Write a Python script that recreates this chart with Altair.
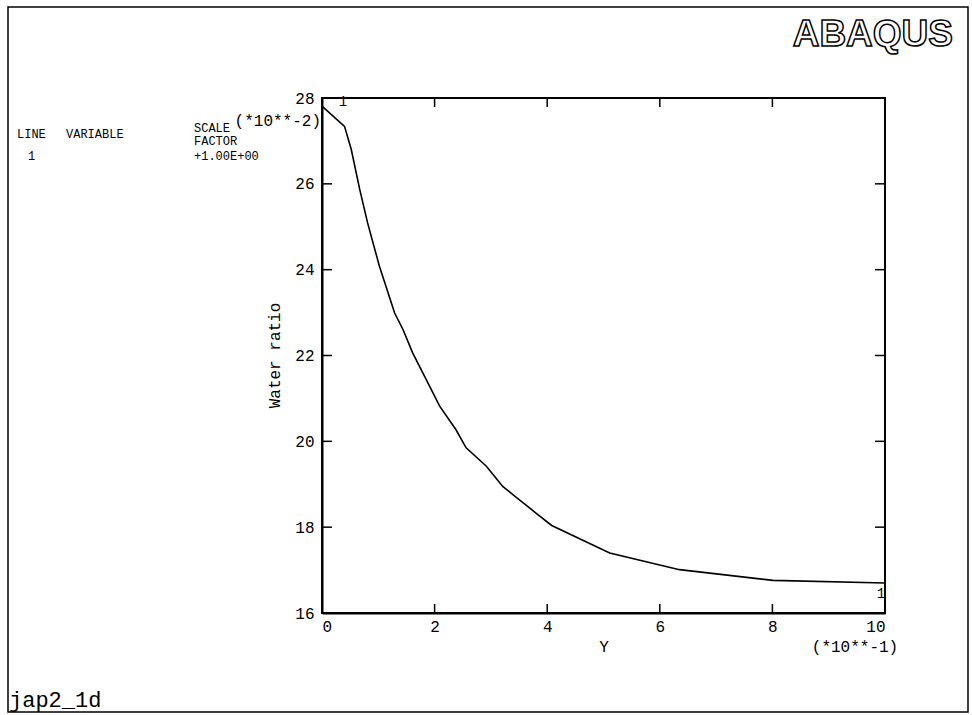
import altair as alt
import pandas as pd

# ---- data ----
y_pos = [0.0, 0.40, 0.52, 0.67, 0.81, 1.02, 1.29, 1.44, 1.61, 1.82, 2.09, 2.38,
         2.56, 2.92, 3.21, 3.39, 3.80, 4.08, 5.11, 6.35, 8.01, 10.0]
water = [27.81, 27.34, 26.80, 25.87, 25.09, 24.08, 22.99, 22.60, 22.06, 21.52, 20.82, 20.27,
         19.85, 19.42, 18.95, 18.76, 18.33, 18.04, 17.40, 17.01, 16.76, 16.70]
x_tick_values = [0, 2, 4, 6, 8, 10]
y_tick_values = [16, 18, 20, 22, 24, 26, 28]
x_inner_ticks = [2, 4, 6, 8]
y_inner_ticks = [18, 20, 22, 24, 26]
marker_x = [0.37, 9.93]
marker_y = [27.9, 16.45]
marker_txt = ["1", "1"]

W, H = 563, 515
PL, PT = 322, 98
MONO = "Liberation Mono"

df = pd.DataFrame({"y": y_pos, "w": water})
xs = alt.Scale(domain=[0, 10], nice=False, zero=False)
ys = alt.Scale(domain=[16, 28], nice=False, zero=False)

line = alt.Chart(df).mark_line(color="black", strokeWidth=1.6).encode(
    x=alt.X("y:Q", scale=xs, axis=alt.Axis(
        values=x_tick_values, format="d", ticks=False, grid=False,
        domainColor="black", domainWidth=2,
        labelFont=MONO, labelFontSize=16, labelColor="black", labelPadding=5,
        title="Y", titleFont=MONO, titleFontSize=16, titleFontWeight="normal",
        titleColor="black", titlePadding=4)),
    y=alt.Y("w:Q", scale=ys, axis=alt.Axis(
        values=y_tick_values, format="d", ticks=False, grid=False,
        domainColor="black", domainWidth=2,
        labelFont=MONO, labelFontSize=16, labelColor="black", labelPadding=8,
        title=None)),
)

xt = pd.DataFrame({"t": x_inner_ticks})
yt = pd.DataFrame({"t": y_inner_ticks})
xtick_bot = alt.Chart(xt).mark_rule(color="black", strokeWidth=1.5).encode(
    x=alt.X("t:Q", scale=xs), y=alt.value(H), y2=alt.value(H - 9))
xtick_top = alt.Chart(xt).mark_rule(color="black", strokeWidth=1.5).encode(
    x=alt.X("t:Q", scale=xs), y=alt.value(0), y2=alt.value(9))
ytick_left = alt.Chart(yt).mark_rule(color="black", strokeWidth=1.5).encode(
    y=alt.Y("t:Q", scale=ys), x=alt.value(0), x2=alt.value(10))
ytick_right = alt.Chart(yt).mark_rule(color="black", strokeWidth=1.5).encode(
    y=alt.Y("t:Q", scale=ys), x=alt.value(W - 10), x2=alt.value(W))

mk = pd.DataFrame({"x": marker_x, "y": marker_y, "t": marker_txt})
markers = alt.Chart(mk).mark_text(font=MONO, fontSize=14, color="black").encode(
    x=alt.X("x:Q", scale=xs), y=alt.Y("y:Q", scale=ys), text="t:N")

one = pd.DataFrame({"a": [0]})


def txt(s, x, y, size=16, align="left", baseline="middle", angle=None, font=MONO, **kw):
    args = dict(text=s, font=font, fontSize=size, align=align, baseline=baseline, color="black")
    if angle is not None:
        args["angle"] = angle
    args.update(kw)
    return alt.Chart(one).mark_text(**args).encode(x=alt.value(x), y=alt.value(y))


ytitle = txt("Water ratio", -47, H / 2, size=16, align="center", angle=270)
yscale = txt("(*10**-2)", -1, 23, size=16, align="right")
xscale = txt("(*10**-1)", 533, 549, size=16, align="center")
leg1 = txt("LINE", 17 - PL, 134 - PT, size=12)
leg1b = txt("VARIABLE", 66 - PL, 134 - PT, size=12)
leg2 = txt("SCALE", 194 - PL, 128 - PT, size=12)
leg3 = txt("FACTOR", 194 - PL, 141 - PT, size=12)
leg4 = txt("1", 28 - PL, 156 - PT, size=12)
leg5 = txt("+1.00E+00", 194 - PL, 156 - PT, size=12)
jap = txt("jap2_1d", 9 - PL, 700 - PT, size=22)
abaqus = alt.Chart(one).mark_text(
    text="ABAQUS", font="Liberation Sans",
    fontSize=37, fontWeight="bold", align="right", baseline="alphabetic",
    fill="white", stroke="black", strokeWidth=1.5,
).encode(x=alt.value(953 - PL), y=alt.value(46 - PT))

border = alt.Chart(one).mark_rect(filled=False, stroke="black", strokeWidth=1.5).encode(
    x=alt.value(8 - PL), x2=alt.value(968 - PL), y=alt.value(7 - PT), y2=alt.value(712 - PT))

chart = alt.layer(
    border, line, xtick_bot, xtick_top, ytick_left, ytick_right, markers,
    ytitle, yscale, xscale, leg1, leg1b, leg2, leg3, leg4, leg5, jap, abaqus,
).properties(
    width=W, height=H,
    padding={"left": PL, "top": PT, "right": 972 - PL - W, "bottom": 715 - PT - H},
    autosize=alt.AutoSizeParams(type="none"),
    background="white",
).configure_view(stroke="black", strokeWidth=2)

chart.save("out.html", embed_options={"renderer": "svg", "actions": False})
